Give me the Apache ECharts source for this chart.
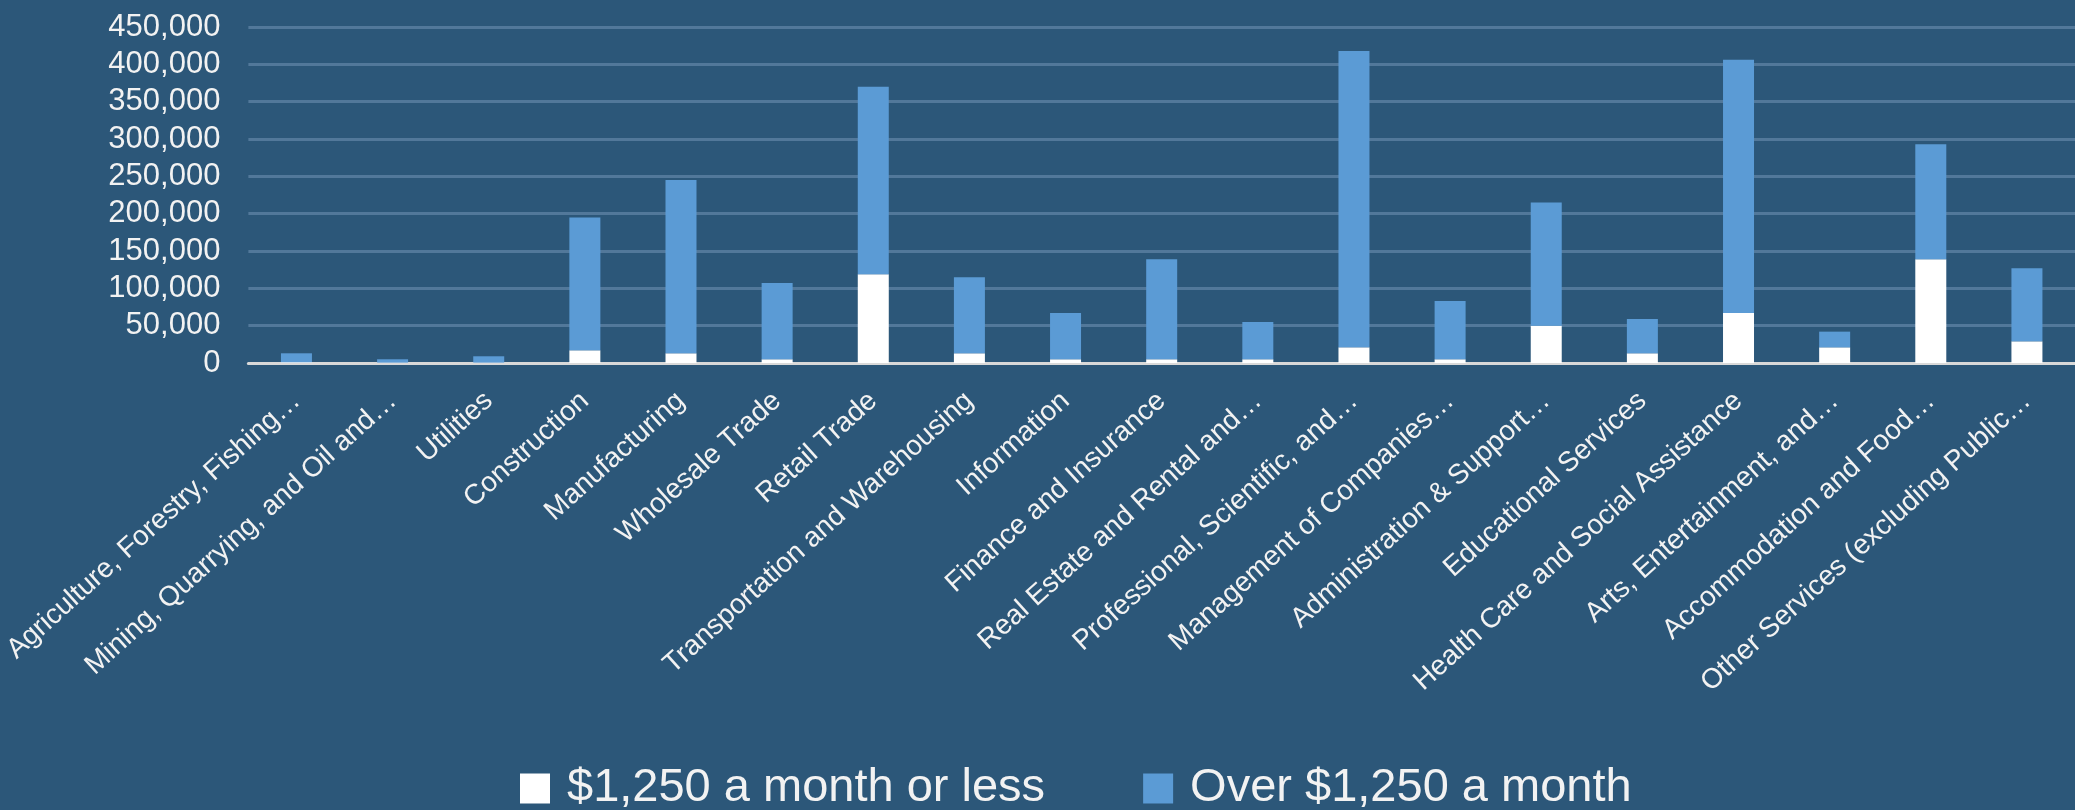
<!DOCTYPE html>
<html lang="en">

<head>
    <meta charset="UTF-8">
    <title>Employment by industry and monthly earnings</title>
    <script src="https://cdn.jsdelivr.net/npm/echarts@6/dist/echarts.min.js"></script>
    <style>
        html, body { margin: 0; padding: 0; background: #2c5779; }
        #main { width: 2075px; height: 810px; }
    </style>
</head>

<body>
<div id="main"></div>

<script type="text/javascript">
    // industries (labels truncated as in the source chart)
    var categories = [
        'Agriculture, Forestry, Fishing…',
        'Mining, Quarrying, and Oil and…',
        'Utilities',
        'Construction',
        'Manufacturing',
        'Wholesale Trade',
        'Retail Trade',
        'Transportation and Warehousing',
        'Information',
        'Finance and Insurance',
        'Real Estate and Rental and…',
        'Professional, Scientific, and…',
        'Management of Companies…',
        'Administration & Support…',
        'Educational Services',
        'Health Care and Social Assistance',
        'Arts, Entertainment, and…',
        'Accommodation and Food…',
        'Other Services (excluding Public…'
    ];

    // jobs paying $1,250 a month or less
    var lowEarnings = [1000, 500, 500, 17000, 13000, 5000, 119000, 13000, 5000, 5000,
        5000, 21000, 5000, 50000, 13000, 67000, 21000, 139000, 29000];

    // jobs paying over $1,250 a month
    var highEarnings = [12000, 4500, 8500, 178000, 232000, 102000, 251000, 102000, 62000, 134000,
        50000, 397000, 78000, 165000, 46000, 339000, 21000, 154000, 98000];

    var seriesNames = ['$1,250 a month or less', 'Over $1,250 a month'];

    var yMax = 450000;
    var yStep = 50000;

    var textColor = '#f2f2f2';
    var font = 'Liberation Sans';

    var myChart = echarts.init(document.getElementById('main'));

    var option = {
        backgroundColor: '#2c5779',
        animation: false,
        grid: {
            left: 234,
            right: 0,
            top: 27,
            bottom: 447
        },
        legend: {
            left: 515,
            top: 760,
            itemWidth: 30,
            itemHeight: 30,
            itemGap: 98,
            icon: 'rect',
            textStyle: {
                color: textColor,
                fontFamily: font,
                fontSize: 47,
                padding: [0, 0, 0, 12]
            },
            data: seriesNames
        },
        xAxis: {
            type: 'category',
            data: categories,
            axisLine: {
                lineStyle: { color: '#d9d9d9', width: 3 }
            },
            axisTick: { show: false },
            axisLabel: {
                interval: 0,
                rotate: 42,
                margin: 34,
                color: textColor,
                fontFamily: font,
                fontSize: 28
            }
        },
        yAxis: {
            type: 'value',
            min: 0,
            max: yMax,
            interval: yStep,
            axisLine: { show: false },
            axisTick: { show: false },
            splitLine: {
                lineStyle: { color: '#52789a', width: 3 }
            },
            axisLabel: {
                margin: 28,
                color: textColor,
                fontFamily: font,
                fontSize: 31,
                formatter: function (v) {
                    return v.toLocaleString('en-US');
                }
            }
        },
        series: [
            {
                name: seriesNames[0],
                type: 'bar',
                stack: 'jobs',
                barWidth: 31,
                itemStyle: { color: '#ffffff' },
                data: lowEarnings
            },
            {
                name: seriesNames[1],
                type: 'bar',
                stack: 'jobs',
                barWidth: 31,
                itemStyle: { color: '#5b9bd5' },
                data: highEarnings
            }
        ]
    };

    myChart.setOption(option);
</script>
</body>

</html>
